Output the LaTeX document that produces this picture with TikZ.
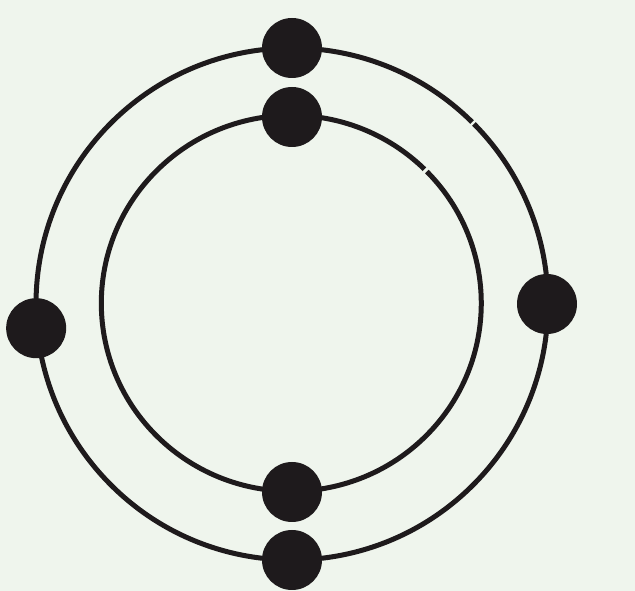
\documentclass[tikz,border=0pt]{standalone}
\usetikzlibrary{positioning}
\definecolor{paper}{RGB}{239,245,237}
\definecolor{ink}{RGB}{30,26,28}
\tikzset{
  dot/.style  = {circle, fill=ink, minimum size=60pt, inner sep=0pt},
  ring/.style = {draw=ink, line width=5pt},
}
\begin{document}
\begin{tikzpicture}[x=1pt, y=1pt]
  % paper
  \fill[paper] (0,0) rectangle (635,591);
  \useasboundingbox (0,0) rectangle (635,591);
  \coordinate (c) at (292,287);

  % Rings, each with a small break at 45 degrees
  \draw[ring] ([shift={(45.3:256)}]c)
    arc[start angle=45.3, end angle=404.7, radius=256];
  \draw[ring] ([shift={(45.5:189)}]c)
    arc[start angle=45.5, end angle=404.5, x radius=190, y radius=188];

  % Dots on the outer ring
  \node[dot] (otop)   at ([shift={(90:256)}]c)    {};
  \node[dot] (obot)   at ([shift={(270:256)}]c)   {};
  \node[dot] (oleft)  at ([shift={(185.4:257)}]c) {};
  \node[dot] (oright) at ([shift={(0:255)}]c)     {};

  % Dots on the inner ring
  \node[dot] (itop) at ([shift={(90:187)}]c)  {};
  \node[dot] (ibot) at ([shift={(270:188)}]c) {};
\end{tikzpicture}
\end{document}
